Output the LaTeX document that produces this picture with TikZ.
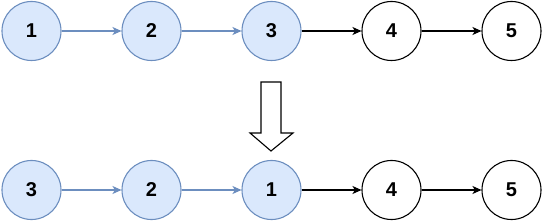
\documentclass[tikz,border=0pt]{standalone}
\usepackage{fontspec}
\setmainfont{Liberation Sans}
\usetikzlibrary{arrows.meta}
\definecolor{bfill}{HTML}{DAE8FC}
\definecolor{bline}{HTML}{6C8EBF}
\begin{document}
\begin{tikzpicture}[x=1pt,y=-1pt,
  nd/.style={circle,draw=black,line width=1.1pt,minimum size=59pt,inner sep=0pt,font=\fontsize{20}{20}\selectfont\bfseries},
  bnd/.style={nd,draw=bline,fill=bfill},
  arr/.style={line width=1.1pt,-{Stealth[length=9pt,width=8pt,inset=2.5pt]}},
  barr/.style={arr,draw=bline}]
\useasboundingbox (0,0) rectangle (542,222);
\node[bnd] (a1) at (31.5,31) {1};
\node[bnd] (a2) at (151.5,31) {2};
\node[bnd] (a3) at (271.5,31) {3};
\node[nd] (a4) at (391.5,31) {4};
\node[nd] (a5) at (511.5,31) {5};
\draw[barr] (a1) -- (a2);
\draw[barr] (a2) -- (a3);
\draw[arr] (a3) -- (a4);
\draw[arr] (a4) -- (a5);
\node[bnd] (b1) at (31.5,190) {3};
\node[bnd] (b2) at (151.5,190) {2};
\node[bnd] (b3) at (271.5,190) {1};
\node[nd] (b4) at (391.5,190) {4};
\node[nd] (b5) at (511.5,190) {5};
\draw[barr] (b1) -- (b2);
\draw[barr] (b2) -- (b3);
\draw[arr] (b3) -- (b4);
\draw[arr] (b4) -- (b5);
\draw[line width=1.1pt,line join=miter,fill=white] (261,82) -- (281,82) -- (281,133) -- (293,133) -- (271,151) -- (250,133) -- (261,133) -- cycle;
\end{tikzpicture}
\end{document}
